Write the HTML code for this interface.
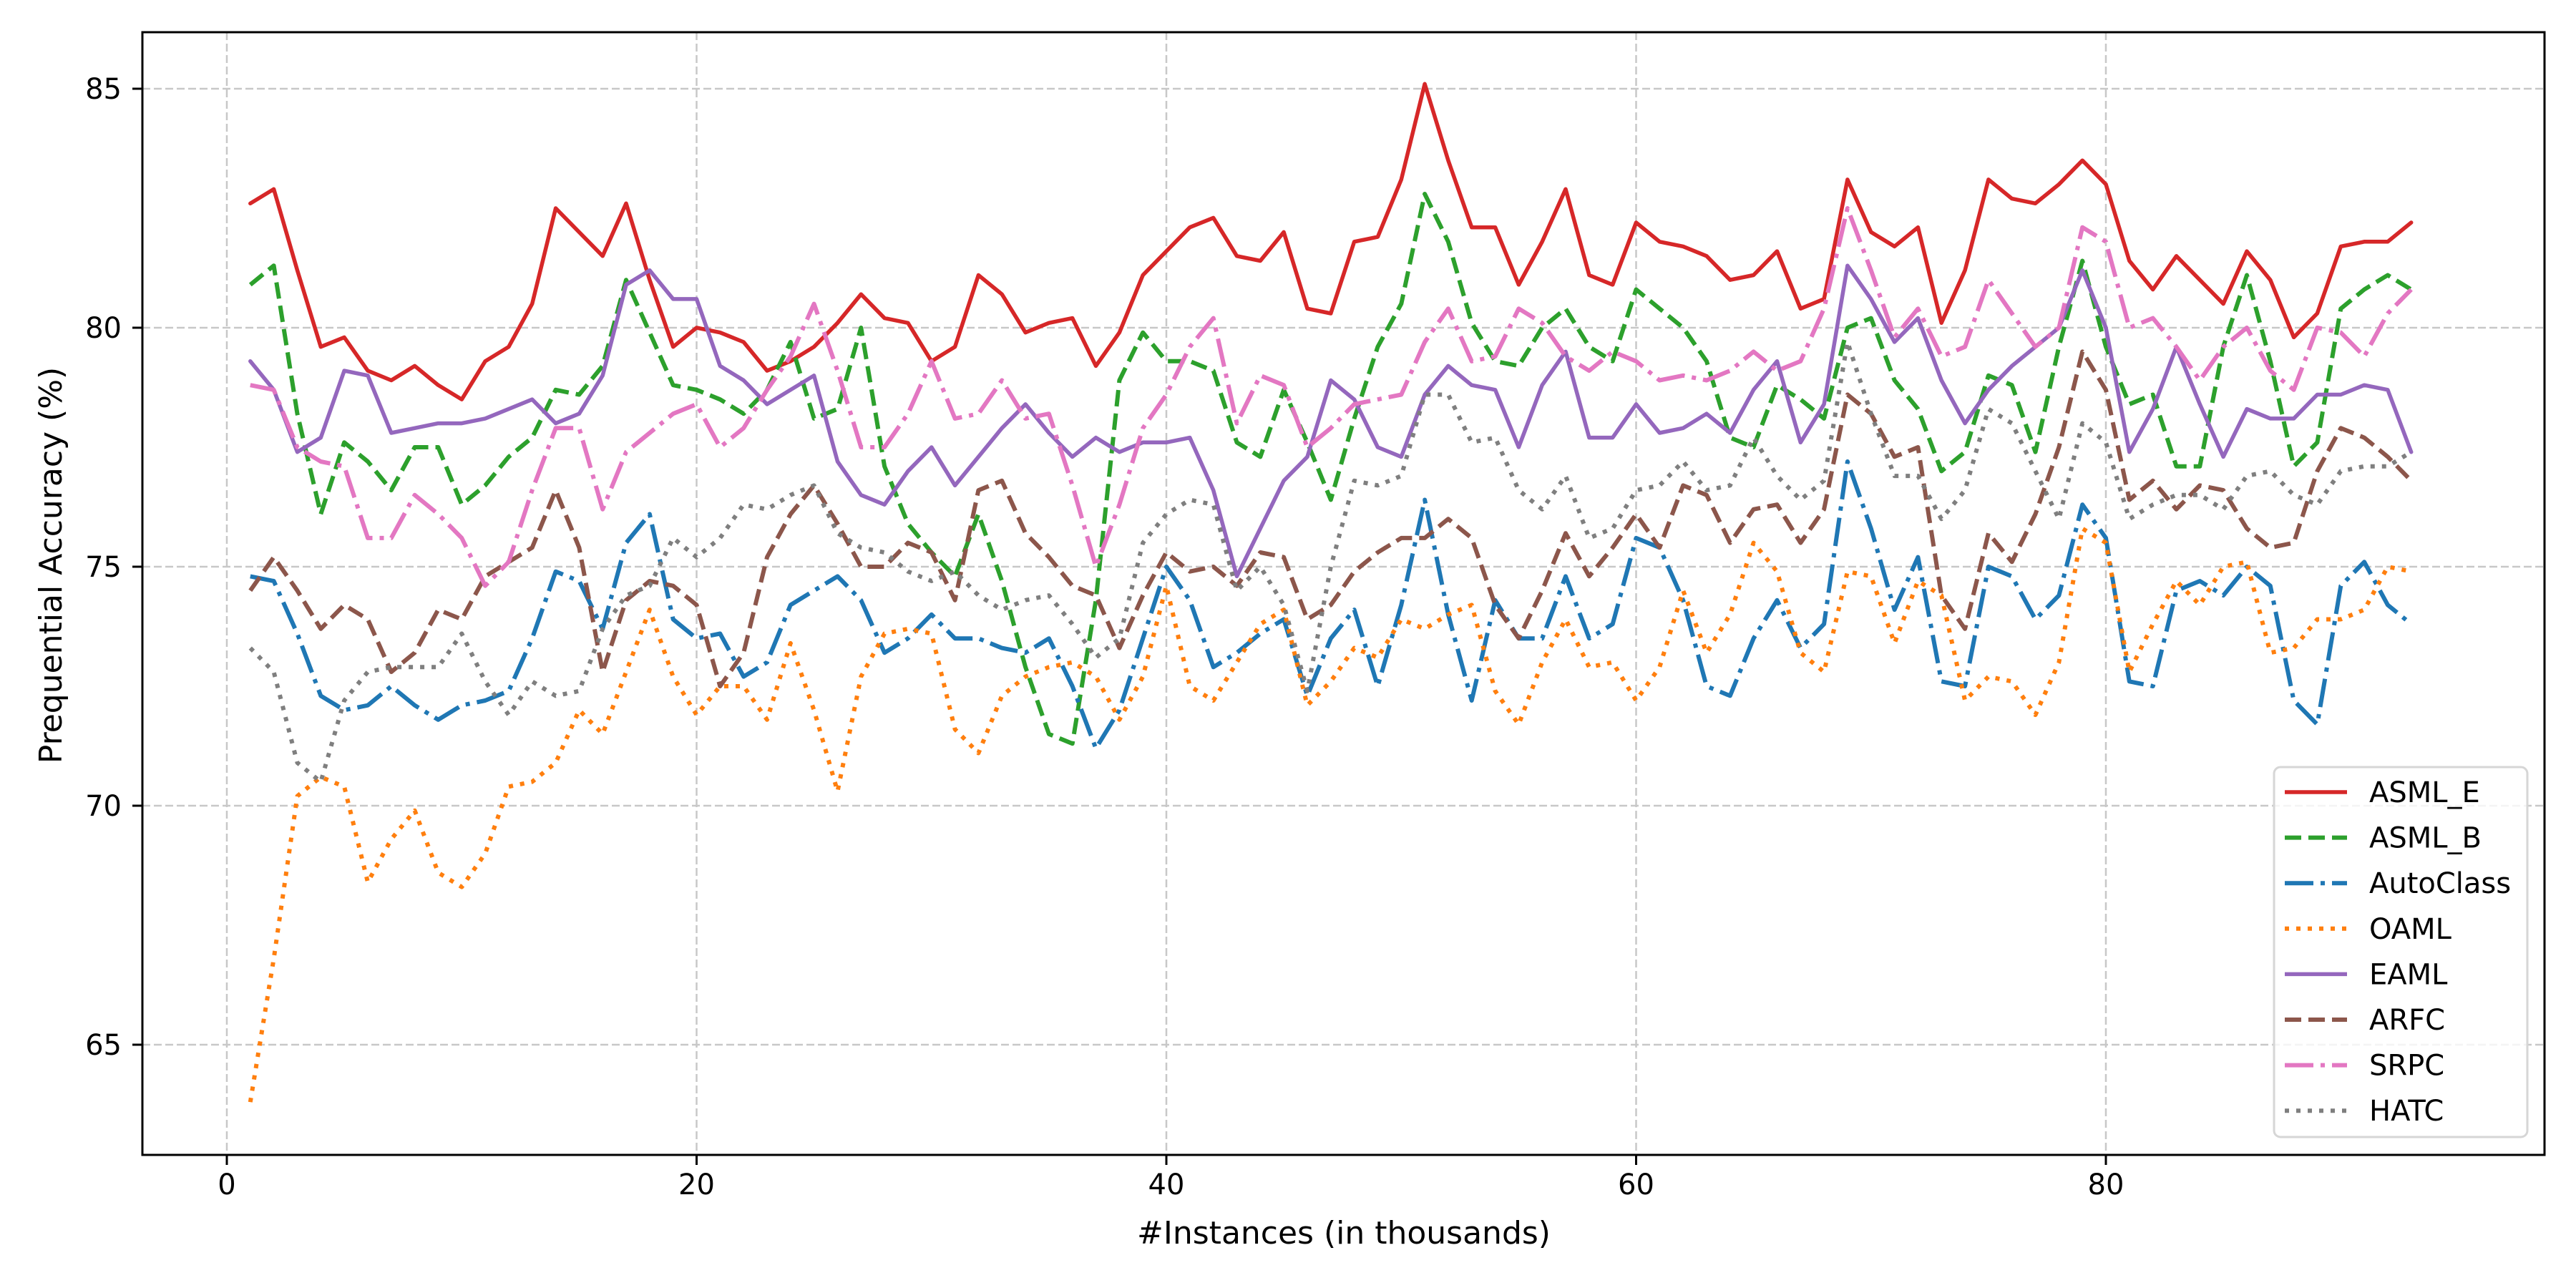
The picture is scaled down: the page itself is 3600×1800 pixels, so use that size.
<!DOCTYPE html>
<html><head><meta charset="utf-8">
<style>
html,body{margin:0;padding:0;background:#fff;}
svg{display:block;font-family:"DejaVu Sans","Liberation Sans",sans-serif;}
</style></head>
<body>
<svg id="chart" width="3600" height="1800" viewBox="0 0 3600 1800" xmlns="http://www.w3.org/2000/svg">
<rect x="0" y="0" width="3600" height="1800" fill="#fff"/>
<g id="grid"></g>
<g id="series"></g>
<rect x="199" y="45" width="3357" height="1569" fill="none" stroke="#000" stroke-width="3"/>
<g id="ticks"></g>
<text x="1878" y="1738" font-size="44" text-anchor="middle">#Instances (in thousands)</text>
<text transform="translate(86,790) rotate(-90)" font-size="44" text-anchor="middle">Prequential Accuracy (%)</text>
<g id="legend"></g>
</svg>
<script>
const names = ["ASML_E","ASML_B","AutoClass","OAML","EAML","ARFC","SRPC","HATC"];
const asmlE = [82.6,82.9,81.2,79.6,79.8,79.1,78.9,79.2,78.8,78.5,79.3,79.6,80.5,82.5,82.0,81.5,82.6,81.0,79.6,80.0,79.9,79.7,79.1,79.3,79.6,80.1,80.7,80.2,80.1,79.3,79.6,81.1,80.7,79.9,80.1,80.2,79.2,79.9,81.1,81.6,82.1,82.3,81.5,81.4,82.0,80.4,80.3,81.8,81.9,83.1,85.1,83.5,82.1,82.1,80.9,81.8,82.9,81.1,80.9,82.2,81.8,81.7,81.5,81.0,81.1,81.6,80.4,80.6,83.1,82.0,81.7,82.1,80.1,81.2,83.1,82.7,82.6,83.0,83.5,83.0,81.4,80.8,81.5,81.0,80.5,81.6,81.0,79.8,80.3,81.7,81.8,81.8,82.2];
const asmlB = [80.9,81.3,78.2,76.1,77.6,77.2,76.6,77.5,77.5,76.3,76.7,77.3,77.7,78.7,78.6,79.2,81.0,79.9,78.8,78.7,78.5,78.2,78.7,79.7,78.1,78.3,80.0,77.1,75.9,75.3,74.8,76.1,74.7,72.9,71.5,71.3,74.3,78.9,79.9,79.3,79.3,79.1,77.6,77.3,78.7,77.6,76.4,78.1,79.6,80.5,82.8,81.8,80.1,79.3,79.2,80.0,80.4,79.6,79.3,80.8,80.4,80.0,79.3,77.7,77.5,78.8,78.5,78.1,80.0,80.2,78.9,78.3,77.0,77.4,79.0,78.8,77.4,79.6,81.4,79.6,78.4,78.6,77.1,77.1,79.6,81.1,79.3,77.1,77.6,80.4,80.8,81.1,80.8];
const autoClass = [74.8,74.7,73.6,72.3,72.0,72.1,72.5,72.1,71.8,72.1,72.2,72.4,73.5,74.9,74.7,73.7,75.5,76.1,73.9,73.5,73.6,72.7,73.0,74.2,74.5,74.8,74.3,73.2,73.5,74.0,73.5,73.5,73.3,73.2,73.5,72.5,71.2,72.0,73.5,75.0,74.3,72.9,73.2,73.6,73.9,72.3,73.5,74.1,72.5,74.2,76.4,74.0,72.2,74.3,73.5,73.5,74.8,73.5,73.8,75.6,75.4,74.3,72.5,72.3,73.5,74.3,73.3,73.8,77.2,75.8,74.1,75.2,72.6,72.5,75.0,74.8,73.9,74.4,76.3,75.6,72.6,72.5,74.5,74.7,74.4,75.0,74.6,72.2,71.7,74.6,75.1,74.2,73.8];
const oaml = [63.8,66.8,70.2,70.6,70.4,68.4,69.3,69.9,68.6,68.3,69.0,70.4,70.5,70.9,72.0,71.5,72.8,74.1,72.7,71.9,72.5,72.5,71.8,73.4,72.0,70.3,72.7,73.6,73.7,73.6,71.6,71.1,72.3,72.7,72.9,73.0,72.7,71.8,72.7,74.6,72.5,72.2,73.0,73.8,74.1,72.1,72.6,73.3,73.1,73.9,73.7,74.0,74.2,72.4,71.7,73.0,73.9,72.9,73.0,72.2,72.9,74.5,73.2,74.0,75.5,74.9,73.2,72.8,74.9,74.8,73.4,74.7,74.4,72.2,72.7,72.6,71.9,73.0,75.8,75.5,72.8,73.8,74.7,74.2,75.0,75.1,73.2,73.3,73.9,73.9,74.1,75.0,74.9];
const eaml = [79.3,78.7,77.4,77.7,79.1,79.0,77.8,77.9,78.0,78.0,78.1,78.3,78.5,78.0,78.2,79.0,80.9,81.2,80.6,80.6,79.2,78.9,78.4,78.7,79.0,77.2,76.5,76.3,77.0,77.5,76.7,77.3,77.9,78.4,77.8,77.3,77.7,77.4,77.6,77.6,77.7,76.6,74.8,75.8,76.8,77.3,78.9,78.5,77.5,77.3,78.6,79.2,78.8,78.7,77.5,78.8,79.5,77.7,77.7,78.4,77.8,77.9,78.2,77.8,78.7,79.3,77.6,78.4,81.3,80.6,79.7,80.2,78.9,78.0,78.7,79.2,79.6,80.0,81.2,80.0,77.4,78.3,79.6,78.4,77.3,78.3,78.1,78.1,78.6,78.6,78.8,78.7,77.4];
const arfc = [74.5,75.2,74.5,73.7,74.2,73.9,72.8,73.2,74.1,73.9,74.8,75.1,75.4,76.6,75.4,72.8,74.3,74.7,74.6,74.2,72.5,73.2,75.2,76.1,76.7,75.9,75.0,75.0,75.5,75.3,74.3,76.6,76.8,75.7,75.2,74.6,74.4,73.3,74.4,75.3,74.9,75.0,74.6,75.3,75.2,73.9,74.2,74.9,75.3,75.6,75.6,76.0,75.6,74.2,73.5,74.5,75.7,74.8,75.4,76.1,75.4,76.7,76.5,75.5,76.2,76.3,75.5,76.2,78.6,78.2,77.3,77.5,74.4,73.7,75.7,75.1,76.1,77.5,79.5,78.7,76.4,76.8,76.2,76.7,76.6,75.8,75.4,75.5,77.0,77.9,77.7,77.3,76.8];
const srpc = [78.8,78.7,77.5,77.2,77.1,75.6,75.6,76.5,76.1,75.6,74.6,75.1,76.6,77.9,77.9,76.2,77.4,77.8,78.2,78.4,77.5,77.9,78.7,79.4,80.5,79.1,77.5,77.5,78.2,79.3,78.1,78.2,78.9,78.1,78.2,76.7,75.0,76.3,77.9,78.6,79.6,80.2,78.0,79.0,78.8,77.5,77.9,78.4,78.5,78.6,79.7,80.4,79.3,79.4,80.4,80.1,79.4,79.1,79.5,79.3,78.9,79.0,78.9,79.1,79.5,79.1,79.3,80.4,82.5,81.2,79.8,80.4,79.4,79.6,81.0,80.3,79.6,80.0,82.1,81.8,80.0,80.2,79.6,78.9,79.6,80.0,79.1,78.7,80.0,79.9,79.4,80.3,80.8];
const hatc = [73.3,72.8,70.9,70.5,72.2,72.8,72.9,72.9,72.9,73.6,72.6,71.9,72.6,72.3,72.4,73.7,74.4,74.6,75.6,75.2,75.6,76.3,76.2,76.5,76.7,75.7,75.4,75.3,74.9,74.7,74.9,74.4,74.1,74.3,74.4,73.8,73.1,73.5,75.5,76.1,76.4,76.3,74.5,75.0,74.2,72.4,75.0,76.8,76.7,76.9,78.6,78.6,77.6,77.7,76.6,76.2,76.9,75.6,75.8,76.6,76.7,77.2,76.6,76.7,77.7,76.9,76.4,76.8,79.7,78.2,76.9,76.9,76.0,76.6,78.3,78.0,77.0,76.0,78.0,77.6,76.0,76.3,76.5,76.5,76.2,76.9,77.0,76.5,76.3,77.0,77.1,77.1,77.4];
const xTicks = [0,20,40,60,80];
const yTicks = [65,70,75,80,85];

const NS = "http://www.w3.org/2000/svg";
const X0 = 317, XPU = (2943-317)/80;
const Y85 = 124, YPU = (1460-124)/20;
function xs(v){ return X0 + v*XPU; }
function ys(v){ return Y85 + (85-v)*YPU; }
function mk(tag, attrs, parent){
  const e = document.createElementNS(NS, tag);
  for (const k in attrs) e.setAttribute(k, attrs[k]);
  parent.appendChild(e);
  return e;
}
const grid = document.getElementById('grid');
const ticks = document.getElementById('ticks');
xTicks.forEach(t=>{
  const g = mk('line',{x1:xs(t),x2:xs(t),y1:45,y2:1614,stroke:'#c8c8c8','stroke-width':2.5,'stroke-dasharray':'11 5'},grid);
  
  
  const tk = mk('line',{x1:xs(t),x2:xs(t),y1:1614,y2:1628,stroke:'#000','stroke-width':3},ticks);
  
  
  const lb = mk('text',{x:xs(t),y:1669,'font-size':40,'text-anchor':'middle'},ticks);
  lb.textContent = t;
  
  
});
yTicks.forEach(t=>{
  const g = mk('line',{x1:199,x2:3556,y1:ys(t),y2:ys(t),stroke:'#c8c8c8','stroke-width':2.5,'stroke-dasharray':'11 5'},grid);
  
  
  const tk = mk('line',{x1:185,x2:199,y1:ys(t),y2:ys(t),stroke:'#000','stroke-width':3},ticks);
  
  
  const lb = mk('text',{x:170,y:ys(t)+14,'font-size':40,'text-anchor':'end'},ticks);
  lb.textContent = t;
  
  
});
const data = [asmlE, asmlB, autoClass, oaml, eaml, arfc, srpc, hatc];
const colors = ['#d62728','#2ca02c','#1f77b4','#ff7f0e','#9467bd','#8c564b','#e377c2','#7f7f7f'];
const dashes = ['none','23 10','40 10 6 10','6 10','none','23 10','40 10 6 10','6 10'];
const widths = [5.5,6,6,6,5.5,6,6,6];
const seriesG = document.getElementById('series');
data.forEach((arr,i)=>{
  const d = arr.map((v,j)=>(j?'L':'M')+xs(j+1).toFixed(1)+' '+ys(v).toFixed(1)).join(' ');
  const p = mk('path',{d:d,fill:'none',stroke:colors[i],'stroke-width':widths[i],'stroke-dasharray':dashes[i],'stroke-linejoin':'round','stroke-linecap':dashes[i]==='none'?'round':'butt'},seriesG);
  
  
});
const leg = document.getElementById('legend');
const box = mk('rect',{x:3178,y:1072,width:354,height:517,rx:9,fill:'#fff','fill-opacity':0.8,stroke:'#d6d6d6','stroke-width':3},leg);


names.forEach((n,i)=>{
  const y = 1107 + i*63.6;
  const l = mk('line',{x1:3193,x2:3280,y1:y,y2:y,stroke:colors[i],'stroke-width':widths[i],'stroke-dasharray':dashes[i]},leg);
  
  
  const t = mk('text',{x:3311,y:y+14,'font-size':40},leg);
  t.textContent = n;
  
  
});
</script>
</body></html>
